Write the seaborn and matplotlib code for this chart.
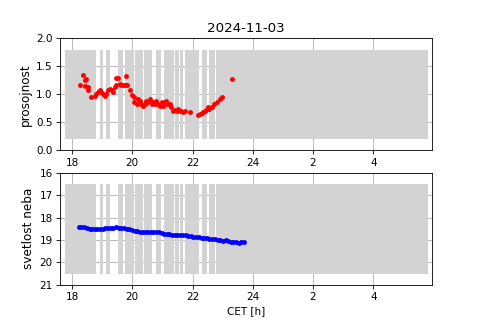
import numpy as np
import pandas as pd
import matplotlib
matplotlib.use('Agg')
import matplotlib.pyplot as plt
import seaborn as sns

# transparency (prosojnost) samples, hours CET
t_trans = [18.255, 18.366, 18.42, 18.477, 18.44, 18.53, 18.53, 18.62, 18.75, 18.81,
           18.865, 18.92, 18.975, 19.03, 19.086, 19.14, 19.197, 19.25, 19.31, 19.36,
           19.42, 19.47, 19.47, 19.53, 19.585, 19.64, 19.695, 19.75, 19.78, 19.84,
           19.92, 19.99, 20.05, 20.06, 20.14, 20.19, 20.25, 20.30, 20.36, 20.415,
           20.47, 20.525, 20.58, 20.64, 20.69, 20.75, 20.80, 20.86, 20.91, 20.97,
           21.02, 21.08, 21.135, 21.19, 21.245, 21.30, 21.36, 21.41, 21.47, 21.52,
           21.58, 21.63, 21.69, 21.74, 21.91, 22.19, 22.24, 22.30, 22.35, 22.41,
           22.46, 22.50, 22.54, 22.63, 22.72, 22.80, 22.91, 22.985, 23.32]
transparency = [1.17, 1.35, 1.25, 1.28, 1.15, 1.13, 1.07, 0.95, 0.98, 1.01,
                1.04, 1.07, 1.04, 1.01, 0.98, 1.01, 1.07, 1.10, 1.07, 1.04,
                1.13, 1.16, 1.30, 1.30, 1.19, 1.17, 1.16, 1.17, 1.33, 1.16,
                1.07, 0.99, 0.95, 0.86, 0.83, 0.92, 0.89, 0.83, 0.80, 0.83,
                0.89, 0.86, 0.91, 0.83, 0.86, 0.83, 0.88, 0.83, 0.80, 0.86,
                0.80, 0.83, 0.89, 0.83, 0.83, 0.77, 0.71, 0.73, 0.70, 0.74,
                0.71, 0.71, 0.68, 0.70, 0.68, 0.63, 0.65, 0.67, 0.68, 0.71,
                0.73, 0.77, 0.74, 0.77, 0.83, 0.86, 0.91, 0.95, 1.28]

# sky brightness (svetlost neba) samples
t_sky = [18.22, 18.31, 18.40, 18.49, 18.58, 18.665, 18.754, 18.84, 18.93, 19.02,
         19.11, 19.20, 19.29, 19.37, 19.46, 19.55, 19.64, 19.73, 19.82, 19.905,
         19.99, 20.08, 20.17, 20.26, 20.35, 20.44, 20.525, 20.61, 20.70, 20.79,
         20.88, 20.97, 21.06, 21.15, 21.235, 21.32, 21.41, 21.50, 21.59, 21.68,
         21.77, 21.855, 21.94, 22.03, 22.12, 22.21, 22.30, 22.39, 22.475, 22.56,
         22.65, 22.74, 22.83, 22.92, 23.01, 23.095, 23.18, 23.27, 23.36, 23.45,
         23.54, 23.625, 23.715]
sky = [18.426, 18.411, 18.426, 18.455, 18.50, 18.50, 18.515, 18.50, 18.50, 18.50,
       18.485, 18.485, 18.485, 18.47, 18.441, 18.47, 18.455, 18.485, 18.50, 18.53,
       18.56, 18.605, 18.62, 18.634, 18.664, 18.664, 18.65, 18.634, 18.65, 18.65,
       18.664, 18.68, 18.71, 18.723, 18.753, 18.768, 18.783, 18.783, 18.783, 18.783,
       18.798, 18.813, 18.842, 18.872, 18.887, 18.887, 18.902, 18.917, 18.932, 18.946,
       18.961, 18.976, 18.991, 19.021, 19.036, 19.021, 19.05, 19.095, 19.11, 19.11,
       19.125, 19.11, 19.095]

# periods with observations (gray bands)
band_start = [17.76, 18.92, 19.14, 19.51, 19.77, 20.08, 20.39, 20.80, 21.06, 21.43,
              21.58, 21.74, 22.30, 22.56, 22.77]
band_end = [18.81, 19.03, 19.27, 19.70, 20.05, 20.36, 20.64, 20.95, 21.38, 21.54,
            21.70, 22.21, 22.48, 22.73, 29.81]

hour_ticks = [18, 20, 22, 24, 26, 28]
hour_labels = ['18', '20', '22', '24', '2', '4']

df_trans = pd.DataFrame({'t': t_trans, 'v': transparency})
df_sky = pd.DataFrame({'t': t_sky, 'v': sky})

fig, (ax1, ax2) = plt.subplots(2, 1, figsize=(6.4, 320 / 75), dpi=75)

for s, e in zip(band_start, band_end):
    ax1.fill_between([s, e], 0.2, 1.8, color='lightgray', linewidth=0)
    ax2.fill_between([s, e], 16.5, 20.5, color='lightgray', linewidth=0)

sns.scatterplot(data=df_trans, x='t', y='v', ax=ax1, color='red', s=22, linewidth=0, zorder=3)
sns.scatterplot(data=df_sky, x='t', y='v', ax=ax2, color='blue', s=22, linewidth=0, zorder=3)

ax1.set_ylim(0, 2.0)
ax1.set_yticks([0.0, 0.5, 1.0, 1.5, 2.0])
ax1.set_ylabel('prosojnost', fontsize=11.5)
ax1.set_xlabel('')
ax1.set_title('2024-11-03', fontsize=12.8)

ax2.set_ylim(21, 16)
ax2.set_yticks([16, 17, 18, 19, 20, 21])
ax2.set_ylabel('svetlost neba', fontsize=11.5)
ax2.set_xlabel('CET [h]')

for ax in (ax1, ax2):
    ax.set_xlim(17.6, 29.95)
    ax.set_xticks(hour_ticks)
    ax.set_xticklabels(hour_labels)
    ax.set_axisbelow(True)
    ax.grid(True)

plt.savefig('out.png', dpi=75)
